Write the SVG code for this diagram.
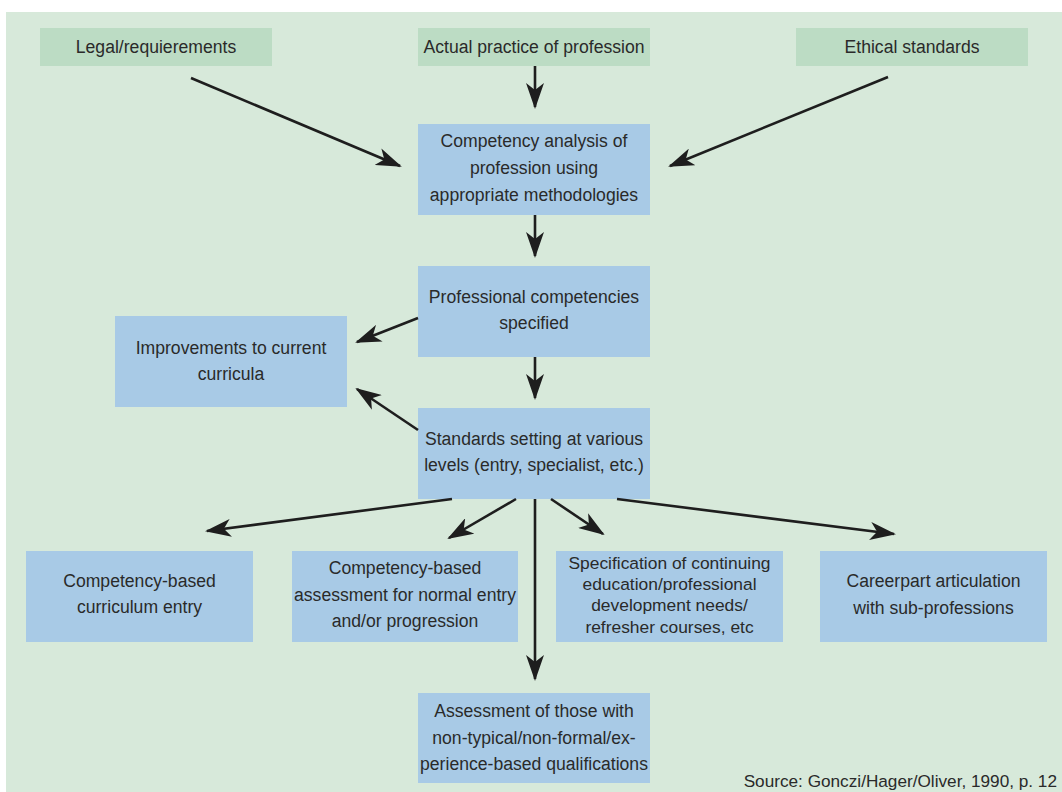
<svg xmlns="http://www.w3.org/2000/svg" width="1062" height="792" viewBox="0 0 1062 792">
<style>
.bg{fill:#d7e9da}
.g{fill:#bcdcc4}
.b{fill:#a8cae6}
text{font-family:"Liberation Sans","DejaVu Sans",sans-serif;font-size:17.6px;fill:#2a2a2a;text-anchor:middle}
.s{font-size:17.4px}
.src{font-size:17.2px;text-anchor:end}
.c line{stroke:#1e1e1e;stroke-width:2.6;marker-end:url(#ah)}
</style>
<defs>
<marker id="ah" markerUnits="userSpaceOnUse" viewBox="0 0 26 18" refX="24" refY="9" markerWidth="26" markerHeight="18" orient="auto">
<path d="M0,0 L26,9 L0,18 L7,9 z" fill="#1e1e1e"/>
</marker>
</defs>
<rect width="1062" height="792" fill="#ffffff"/>
<rect class="bg" x="6" y="12" width="1056" height="780"/>

<g id="n-legal"><rect class="g" x="40" y="28" width="232" height="38"/><text x="156" y="53">Legal/requierements</text></g>
<g id="n-practice"><rect class="g" x="418" y="28" width="232" height="38"/><text x="534" y="53">Actual practice of profession</text></g>
<g id="n-ethical"><rect class="g" x="796" y="28" width="232" height="38"/><text x="912" y="53">Ethical standards</text></g>

<g id="n-analysis"><rect class="b" x="418" y="124" width="232" height="91"/>
<text x="534" y="147">Competency analysis of</text><text x="534" y="174">profession using</text><text x="534" y="201">appropriate methodologies</text></g>

<g id="n-professional"><rect class="b" x="418" y="266" width="232" height="91"/>
<text x="534" y="303">Professional competencies</text><text x="534" y="329">specified</text></g>

<g id="n-improvements"><rect class="b" x="115" y="316" width="232" height="91"/>
<text x="231" y="354">Improvements to current</text><text x="231" y="380">curricula</text></g>

<g id="n-standards"><rect class="b" x="418" y="408" width="232" height="91"/>
<text x="534" y="445">Standards setting at various</text><text x="534" y="471">levels (entry, specialist, etc.)</text></g>

<g id="n-curriculum"><rect class="b" x="26" y="551" width="227" height="91"/>
<text x="139.5" y="587">Competency-based</text><text x="139.5" y="613">curriculum entry</text></g>

<g id="n-assessment"><rect class="b" x="292" y="551" width="226" height="91"/>
<text x="405" y="574">Competency-based</text><text x="405" y="601">assessment for normal entry</text><text x="405" y="627">and/or progression</text></g>

<g id="n-specification"><rect class="b" x="556" y="551" width="227" height="91"/>
<text class="s" x="669.5" y="569">Specification of continuing</text><text class="s" x="669.5" y="590">education/professional</text><text class="s" x="669.5" y="611">development needs/</text><text class="s" x="669.5" y="633">refresher courses, etc</text></g>

<g id="n-careerpart"><rect class="b" x="820" y="551" width="227" height="91"/>
<text x="933.5" y="587">Careerpart articulation</text><text x="933.5" y="614">with sub-professions</text></g>

<g id="n-nontypical"><rect class="b" x="418" y="693" width="232" height="90"/>
<text x="534" y="717">Assessment of those with</text><text x="534" y="744">non-typical/non-formal/ex-</text><text x="534" y="770">perience-based qualifications</text></g>

<g id="connectors" class="c">
<line x1="191" y1="78" x2="400" y2="166"/>
<line x1="535" y1="66" x2="535" y2="107"/>
<line x1="888" y1="77" x2="670" y2="166"/>
<line x1="535" y1="215" x2="535" y2="256"/>
<line x1="418" y1="318" x2="357" y2="342"/>
<line x1="535" y1="357" x2="535" y2="398"/>
<line x1="418" y1="430" x2="357" y2="389"/>
<line x1="452" y1="499" x2="207" y2="531"/>
<line x1="516" y1="499" x2="449" y2="538"/>
<line x1="551" y1="499" x2="603" y2="534"/>
<line x1="617" y1="499" x2="894" y2="534"/>
<line x1="535" y1="499" x2="535" y2="679"/>
</g>

<text class="src" x="1057" y="787">Source: Gonczi/Hager/Oliver, 1990, p. 12</text>
</svg>
